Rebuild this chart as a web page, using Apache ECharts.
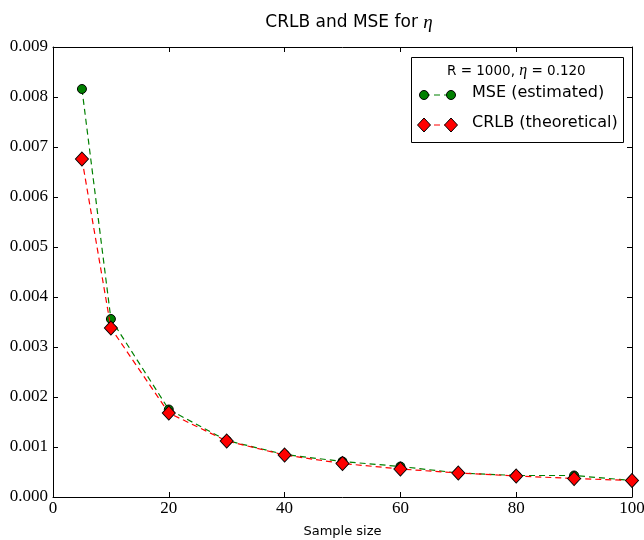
<!DOCTYPE html>
<html><head><meta charset="utf-8">
<script src="https://cdn.jsdelivr.net/npm/echarts@6/dist/echarts.min.js"></script>
<style>html,body{margin:0;padding:0;background:#fff}#c{width:644px;height:540px}</style>
</head><body><div id="c"></div><script>
const sampleSizes = [5, 10, 20, 30, 40, 50, 60, 70, 80, 90, 100];
const mseEstimated = [0.00816, 0.00356, 0.00175, 0.00113, 0.00085, 0.00071, 0.00061, 0.00048, 0.00043, 0.00043, 0.00033];
const crlbTheoretical = [0.00676, 0.00338, 0.00168, 0.00112, 0.00084, 0.00067, 0.00056, 0.00048, 0.00042, 0.00037, 0.00033];
const seriesNames = ['MSE (estimated)', 'CRLB (theoretical)'];
const legendTitle = 'R = 1000, ';
const legendTitleTail = ' = 0.120';

const chart = echarts.init(document.getElementById('c'), null, {renderer: 'canvas'});
const serifFont = '"Liberation Serif", "DejaVu Serif", serif';
const sansFont = '"DejaVu Sans", sans-serif';
const GREEN = '#008000', RED = '#ff0000';

function axisCommon(show) {
  return {
    axisLine: {show: true, onZero: false, lineStyle: {color: '#000', width: 1}},
    axisTick: {show: true, inside: true, length: 5, lineStyle: {color: '#000', width: 1}},
    axisLabel: {show: show, color: '#000', fontFamily: serifFont, fontSize: 17},
    splitLine: {show: false}
  };
}

const grid = {left: 53, right: 12, top: 47, bottom: 43, containLabel: false, outerBoundsMode: 'none'};

const option = {
  animation: false,
  backgroundColor: '#fff',
  title: {
    text: 'CRLB and MSE for {i|η}',
    left: 344, top: 8, textAlign: 'center',
    textStyle: {
      fontFamily: sansFont, fontSize: 17, fontWeight: 'normal', color: '#000',
      rich: {i: {fontFamily: serifFont, fontStyle: 'italic', fontSize: 19, color: '#000'}}
    }
  },
  grid: grid,
  xAxis: [
    Object.assign({type: 'value', position: 'bottom', min: 0, max: 100, interval: 20,
      name: 'Sample size', nameLocation: 'middle', nameGap: 28,
      nameTextStyle: {fontFamily: sansFont, fontSize: 13, color: '#000'}}, axisCommon(true),
      {axisLabel: {show: true, color: '#000', fontFamily: serifFont, fontSize: 17, margin: 3}}),
    Object.assign({type: 'value', position: 'top', min: 0, max: 100, interval: 20}, axisCommon(false))
  ],
  yAxis: [
    Object.assign({type: 'value', position: 'left', min: 0, max: 0.009, interval: 0.001}, axisCommon(true),
      {axisLabel: {show: true, color: '#000', fontFamily: serifFont, fontSize: 17, margin: 5,
        formatter: v => v.toFixed(3)}}),
    Object.assign({type: 'value', position: 'right', min: 0, max: 0.009, interval: 0.001}, axisCommon(false))
  ],
  series: [
    {
      name: seriesNames[0], type: 'line', xAxisIndex: 0, yAxisIndex: 0,
      data: sampleSizes.map((x, i) => [x, mseEstimated[i]]),
      symbol: 'circle', symbolSize: 9, showAllSymbol: true,
      lineStyle: {color: GREEN, width: 1.2, type: [6, 4]},
      itemStyle: {color: GREEN, borderColor: '#000', borderWidth: 1},
      z: 2
    },
    {
      name: seriesNames[1], type: 'line', xAxisIndex: 0, yAxisIndex: 0,
      data: sampleSizes.map((x, i) => [x, crlbTheoretical[i]]),
      symbol: 'diamond', symbolSize: [13, 14], showAllSymbol: true,
      lineStyle: {color: RED, width: 1.2, type: [6, 4]},
      itemStyle: {color: RED, borderColor: '#000', borderWidth: 1},
      z: 3
    }
  ],
  graphic: [
    {type: 'rect', left: 411, top: 57, shape: {width: 212, height: 85},
      style: {fill: '#fff', stroke: '#000', lineWidth: 1}, z: 10},
    {type: 'text', left: 447, top: 63, z: 11,
      style: {text: legendTitle + '{i|η}' + legendTitleTail, fill: '#000', font: '13.5px ' + sansFont,
        rich: {i: {fontFamily: serifFont, fontStyle: 'italic', fontSize: 16, fill: '#000'}}}},
    // entry 1
    {type: 'line', z: 11, shape: {x1: 424, y1: 95, x2: 451, y2: 95}, style: {stroke: GREEN, lineWidth: 1.2, lineDash: [6, 4]}},
    {type: 'circle', z: 12, shape: {cx: 424, cy: 95, r: 4.5}, style: {fill: GREEN, stroke: '#000', lineWidth: 1}},
    {type: 'circle', z: 12, shape: {cx: 451, cy: 95, r: 4.5}, style: {fill: GREEN, stroke: '#000', lineWidth: 1}},
    {type: 'text', z: 11, left: 472, top: 85, style: {text: seriesNames[0], fill: '#000', font: '16px ' + sansFont}},
    // entry 2
    {type: 'line', z: 11, shape: {x1: 424, y1: 125, x2: 451, y2: 125}, style: {stroke: RED, lineWidth: 1.2, lineDash: [6, 4]}},
    {type: 'polygon', z: 12, shape: {points: [[424, 118], [430.5, 125], [424, 132], [417.5, 125]]}, style: {fill: RED, stroke: '#000', lineWidth: 1}},
    {type: 'polygon', z: 12, shape: {points: [[451, 118], [457.5, 125], [451, 132], [444.5, 125]]}, style: {fill: RED, stroke: '#000', lineWidth: 1}},
    {type: 'text', z: 11, left: 472, top: 115, style: {text: seriesNames[1], fill: '#000', font: '16px ' + sansFont}}
  ]
};
chart.setOption(option);
</script></body></html>
